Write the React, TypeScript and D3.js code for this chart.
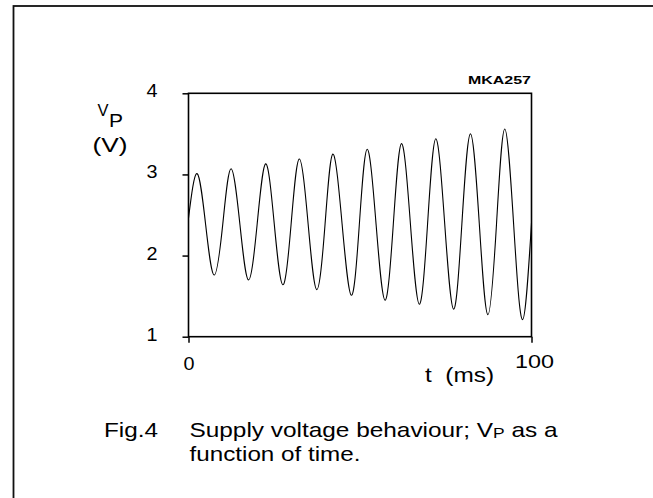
import { useEffect, useRef } from "react";
import * as d3 from "d3";

const W = 653,
  H = 498;

// plot box in page pixels
const box = { left: 188.5, right: 531.5, top: 93.3, bottom: 336.7 };

// [t (ms), Vp (V)]
const startPoint: [number, number] = [0, 2.46];
const peaks: [number, number][] = [
  [2.5, 3.01], [12.4, 3.07], [22.5, 3.13], [32.3, 3.19], [42.1, 3.25],
  [52.1, 3.31], [62.1, 3.38], [72.1, 3.44], [82.2, 3.5], [92.2, 3.56],
];
const troughs: [number, number][] = [
  [7.5, 1.76], [17.5, 1.7], [27.5, 1.64], [37.4, 1.58], [47.5, 1.51],
  [57.3, 1.45], [67.3, 1.4], [77.3, 1.34], [87.3, 1.27], [97.4, 1.21],
];
const downCross: [number, number][] = [
  [5.0, 2.38], [15.0, 2.38], [25.0, 2.39], [34.9, 2.38], [44.8, 2.38],
  [54.7, 2.38], [64.7, 2.39], [74.7, 2.39], [84.8, 2.38], [94.8, 2.38],
];
const upCross: [number, number][] = [
  [10.0, 2.39], [20.0, 2.38], [29.9, 2.38], [39.8, 2.38], [49.8, 2.38],
  [59.7, 2.38], [69.7, 2.39], [79.7, 2.39], [89.8, 2.39],
];
const endPoint: [number, number] = [100, 2.4];

const yTicks = [1, 2, 3, 4];
const xTicks = [0, 100];

const x = d3.scaleLinear().domain([0, 100]).range([box.left, box.right]);
const y = d3.scaleLinear().domain([1, 4]).range([box.bottom, box.top]);

const axisFont = "'Liberation Sans', Arial, sans-serif";
const capFont = "'Liberation Sans', Arial, sans-serif";

function App() {
  const gRef = useRef(null);

  useEffect(() => {
    const g = d3.select(gRef.current);
    g.selectAll("*").remove();

    const yAxis = d3.axisLeft(y).tickValues(yTicks).tickSize(6).tickFormat(() => "");
    g.append("g")
      .attr("transform", `translate(${box.left},0)`)
      .call(yAxis)
      .call((s) => s.select(".domain").remove())
      .selectAll("line")
      .attr("stroke", "#000")
      .attr("stroke-width", 1.5);

    const xAxis = d3.axisBottom(x).tickValues(xTicks).tickSize(6).tickFormat(() => "");
    g.append("g")
      .attr("transform", `translate(0,${box.bottom})`)
      .call(xAxis)
      .call((s) => s.select(".domain").remove())
      .selectAll("line")
      .attr("stroke", "#000")
      .attr("stroke-width", 1.5);

    g.append("rect")
      .attr("x", x(0))
      .attr("y", y(4))
      .attr("width", x(100) - x(0))
      .attr("height", y(1) - y(4))
      .attr("fill", "none")
      .attr("stroke", "#000")
      .attr("stroke-width", 1.6);

    const pts = [startPoint, ...peaks, ...troughs, ...downCross, ...upCross, endPoint].sort(
      (a, b) => a[0] - b[0]
    );
    const line = d3
      .line<[number, number]>()
      .x((d) => x(d[0]))
      .y((d) => y(d[1]))
      .curve(d3.curveNatural);

    g.append("path")
      .datum(pts)
      .attr("d", line)
      .attr("fill", "none")
      .attr("stroke", "#000")
      .attr("stroke-width", 1.1);
  }, []);

  return (
    <svg
      width={W}
      height={H}
      style={{ position: "absolute", left: 0, top: 0, background: "#fff" }}
    >
      <rect x={13.5} y={6} width={700} height={600} fill="none" stroke="#111" strokeWidth={1.8} />
      <g ref={gRef}></g>

      {yTicks.map((v) => (
        <text
          key={v}
          x={box.left - 31}
          y={y(v) + 4}
          textAnchor="end"
          fontFamily={axisFont}
          fontSize={17.5}
          textLength={11}
          lengthAdjust="spacingAndGlyphs"
          fill="#000"
        >
          {v}
        </text>
      ))}
      <text
        x={x(0) + 0.5}
        y={370}
        textAnchor="middle"
        fontFamily={axisFont}
        fontSize={18}
        textLength={11}
        lengthAdjust="spacingAndGlyphs"
      >
        {xTicks[0]}
      </text>
      <text
        x={x(100) + 3}
        y={368}
        textAnchor="middle"
        fontFamily={axisFont}
        fontSize={18}
        textLength={39}
        lengthAdjust="spacingAndGlyphs"
      >
        {xTicks[1]}
      </text>
      <text
        x={425}
        y={382}
        fontFamily={axisFont}
        fontSize={20}
        textLength={69}
        lengthAdjust="spacingAndGlyphs"
      >
        {"t\u00a0 (ms)"}
      </text>

      <text
        x={97.5}
        y={116}
        fontFamily={axisFont}
        fontSize={16}
        textLength={11}
        lengthAdjust="spacingAndGlyphs"
      >
        V
      </text>
      <text
        x={109}
        y={127}
        fontFamily={axisFont}
        fontSize={19}
        textLength={14}
        lengthAdjust="spacingAndGlyphs"
      >
        P
      </text>
      <text
        x={92.5}
        y={152}
        fontFamily={axisFont}
        fontSize={20}
        textLength={35}
        lengthAdjust="spacingAndGlyphs"
      >
        (V)
      </text>

      <text
        x={531}
        y={84}
        textAnchor="end"
        fontFamily={capFont}
        fontWeight="bold"
        fontSize={11.5}
        textLength={63}
        lengthAdjust="spacingAndGlyphs"
      >
        MKA257
      </text>

      <text
        x={104}
        y={437}
        fontFamily={capFont}
        fontSize={21}
        textLength={54}
        lengthAdjust="spacingAndGlyphs"
      >
        Fig.4
      </text>
      <text
        x={189.5}
        y={437}
        fontFamily={capFont}
        fontSize={21}
        textLength={368}
        lengthAdjust="spacingAndGlyphs"
      >
        Supply voltage behaviour; V
        <tspan fontSize={15} dy={1}>
          P
        </tspan>
        <tspan dy={-1}> as a</tspan>
      </text>
      <text
        x={189.5}
        y={461}
        fontFamily={capFont}
        fontSize={21}
        textLength={171}
        lengthAdjust="spacingAndGlyphs"
      >
        function of time.
      </text>
    </svg>
  );
}

export default App;
